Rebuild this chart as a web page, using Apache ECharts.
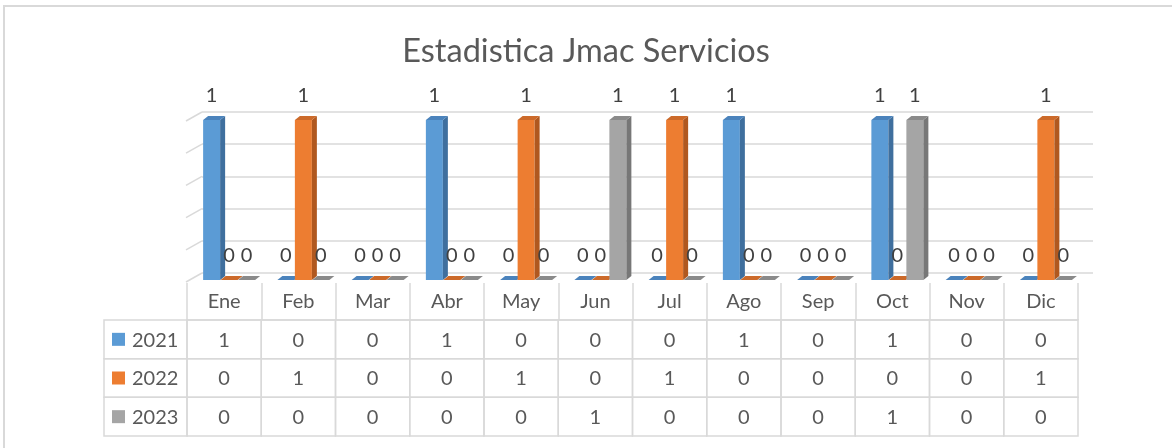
<!DOCTYPE html>
<html>
<head>
<meta charset="utf-8">
<title>Estadistica Jmac Servicios</title>
<script src="https://cdn.jsdelivr.net/npm/echarts@6/dist/echarts.min.js"></script>
<style>
  html, body { margin: 0; padding: 0; background: #ffffff; }
  #chart { width: 1172px; height: 448px; }
</style>
</head>
<body>
<div id="chart"></div>
<script>
// Monthly service counts per year
const months = ['Ene', 'Feb', 'Mar', 'Abr', 'May', 'Jun', 'Jul', 'Ago', 'Sep', 'Oct', 'Nov', 'Dic'];
const years = ['2021', '2022', '2023'];
const values2021 = [1, 0, 0, 1, 0, 0, 0, 1, 0, 1, 0, 0];
const values2022 = [0, 1, 0, 0, 1, 0, 1, 0, 0, 0, 0, 1];
const values2023 = [0, 0, 0, 0, 0, 1, 0, 0, 0, 1, 0, 0];
const valueTicks = [0, 0.2, 0.4, 0.6, 0.8, 1];

const seriesValues = [values2021, values2022, values2023];

// Column shading: front face, side face, top face
const frontColors = ['#5B9BD5', '#ED7D31', '#A5A5A5'];
const sideColors = ['#3F6F9E', '#B0581F', '#777777'];
const topColors = ['#4B83BC', '#CC6A2A', '#8A8A8A'];

const FONT = 'Lato, "Open Sans", sans-serif';
const GRID_LINE = '#D9D9D9';
const DEPTH_X = 5, DEPTH_Y = 4;

function columnGeometry(api, yearIdx) {
  const cat = api.value(0);
  const val = api.value(1);
  const top = api.coord([cat, val]);
  const base = api.coord([cat, 0]);
  const band = api.size([1, 0])[0];
  const w = band * 0.229;
  const cx = top[0] + (yearIdx - 1) * band * 0.2357;
  return { x1: cx - w / 2, x2: cx + w / 2, yTop: top[1], yBot: base[1], cx: cx };
}

function columnSeries(yearIdx) {
  return {
    type: 'custom',
    name: years[yearIdx],
    xAxisIndex: 1,
    yAxisIndex: 1,
    z: 3,
    data: seriesValues[yearIdx].map((v, i) => [i, v]),
    encode: { x: 0, y: 1 },
    renderItem: function (params, api) {
      const g = columnGeometry(api, yearIdx);
      const children = [];
      if (g.yBot - g.yTop > 0.5) {
        children.push({
          type: 'rect',
          shape: { x: g.x1, y: g.yTop, width: g.x2 - g.x1, height: g.yBot - g.yTop },
          style: { fill: frontColors[yearIdx] }
        });
      }
      children.push({
        type: 'polygon',
        shape: { points: [[g.x2, g.yTop], [g.x2 + DEPTH_X, g.yTop - DEPTH_Y], [g.x2 + DEPTH_X, g.yBot - DEPTH_Y], [g.x2, g.yBot]] },
        style: { fill: sideColors[yearIdx] }
      });
      children.push({
        type: 'polygon',
        shape: { points: [[g.x1, g.yTop], [g.x1 + DEPTH_X, g.yTop - DEPTH_Y], [g.x2 + DEPTH_X, g.yTop - DEPTH_Y], [g.x2, g.yTop]] },
        style: { fill: topColors[yearIdx] }
      });
      return { type: 'group', children: children };
    }
  };
}

function labelSeries(yearIdx) {
  return {
    type: 'custom',
    xAxisIndex: 1,
    yAxisIndex: 1,
    z: 6,
    silent: true,
    data: seriesValues[yearIdx].map((v, i) => [i, v]),
    encode: { x: 0, y: 1 },
    renderItem: function (params, api) {
      const g = columnGeometry(api, yearIdx);
      return {
        type: 'text',
        style: {
          text: String(api.value(1)),
          x: g.cx,
          y: g.yTop - 24.5,
          align: 'center',
          verticalAlign: 'middle',
          fill: '#404040',
          font: '20px ' + FONT
        }
      };
    }
  };
}

// Table body: one cell per month and year
const tableCells = [];
seriesValues.forEach((vals, yi) => vals.forEach((v, mi) => tableCells.push([mi, yi, v])));

const chart = echarts.init(document.getElementById('chart'), null, { renderer: 'canvas' });

chart.setOption({
  animation: false,
  backgroundColor: '#ffffff',
  title: {
    text: 'Estadistica Jmac Servicios',
    left: 'center',
    top: 30,
    textStyle: { fontFamily: FONT, fontSize: 32.5, fontWeight: 'normal', color: '#595959' }
  },
  graphic: [{
    type: 'rect',
    shape: { x: 4, y: 6, width: 1220, height: 500 },
    style: { fill: null, stroke: GRID_LINE, lineWidth: 2 },
    silent: true
  }],
  grid: [
    { left: 202, top: 112, width: 891, height: 161 },  // back wall
    { left: 192, top: 120, width: 891, height: 160 },  // columns
    { left: 187, top: 320, width: 891, height: 116 }   // data table
  ],
  xAxis: [
    { type: 'category', gridIndex: 0, data: months, show: false },
    { type: 'category', gridIndex: 1, data: months, show: false },
    {
      type: 'category', gridIndex: 2, data: months, position: 'top',
      axisLine: { show: true, lineStyle: { color: GRID_LINE, width: 1.5 } },
      axisTick: { show: true, interval: 0, length: 37, lineStyle: { color: GRID_LINE, width: 1.5 } },
      axisLabel: {
        interval: 0, margin: 18, verticalAlign: 'middle',
        color: '#595959', fontFamily: FONT, fontSize: 20
      },
      splitLine: { show: false }
    }
  ],
  yAxis: [
    {
      type: 'value', gridIndex: 0, min: 0, max: 1, interval: 0.2,
      axisLine: { show: false }, axisTick: { show: false }, axisLabel: { show: false },
      splitLine: { show: true, lineStyle: { color: GRID_LINE, width: 1.5 } }
    },
    { type: 'value', gridIndex: 1, min: 0, max: 1, interval: 0.2, show: false },
    {
      type: 'category', gridIndex: 2, data: years, inverse: true,
      axisLine: { show: false }, axisTick: { show: false }, axisLabel: { show: false },
      splitLine: { show: false }
    }
  ],
  series: [
    // side wall gridlines running toward the viewer
    {
      type: 'custom',
      xAxisIndex: 0,
      yAxisIndex: 0,
      silent: true,
      z: 1,
      data: valueTicks.map(v => [0, v]),
      encode: { x: 0, y: 1 },
      renderItem: function (params, api) {
        const p = api.coord([0, api.value(1)]);
        const x0 = params.coordSys.x;
        return {
          type: 'line',
          shape: { x1: x0, y1: p[1], x2: x0 - 16, y2: p[1] + 9 },
          style: { stroke: GRID_LINE, lineWidth: 1.5 }
        };
      }
    },
    columnSeries(0),
    columnSeries(1),
    columnSeries(2),
    labelSeries(0),
    labelSeries(1),
    labelSeries(2),
    // table cells
    {
      type: 'custom',
      xAxisIndex: 2,
      yAxisIndex: 2,
      silent: true,
      data: tableCells,
      encode: { x: 0, y: 1 },
      renderItem: function (params, api) {
        const c = api.coord([api.value(0), api.value(1)]);
        const s = api.size([1, 1]);
        return {
          type: 'group',
          children: [
            {
              type: 'rect',
              shape: { x: c[0] - s[0] / 2, y: c[1] - s[1] / 2, width: s[0], height: s[1] },
              style: { fill: null, stroke: GRID_LINE, lineWidth: 1.5 }
            },
            {
              type: 'text',
              style: {
                text: String(api.value(2)), x: c[0], y: c[1] + 1,
                align: 'center', verticalAlign: 'middle',
                fill: '#595959', font: '20px ' + FONT
              }
            }
          ]
        };
      }
    },
    // series names with colour keys
    {
      type: 'custom',
      xAxisIndex: 2,
      yAxisIndex: 2,
      silent: true,
      data: years.map((y, i) => [0, i]),
      encode: { x: 0, y: 1 },
      renderItem: function (params, api) {
        const yi = api.value(1);
        const c = api.coord([0, yi]);
        const s = api.size([1, 1]);
        const x0 = params.coordSys.x;
        return {
          type: 'group',
          children: [
            {
              type: 'rect',
              shape: { x: x0 - 83, y: c[1] - s[1] / 2, width: 83, height: s[1] },
              style: { fill: null, stroke: GRID_LINE, lineWidth: 1.5 }
            },
            {
              type: 'rect',
              shape: { x: x0 - 75, y: c[1] - 6.5, width: 13, height: 13 },
              style: { fill: frontColors[yi] }
            },
            {
              type: 'text',
              style: {
                text: years[yi], x: x0 - 55, y: c[1] + 1,
                align: 'left', verticalAlign: 'middle',
                fill: '#595959', font: '20px ' + FONT
              }
            }
          ]
        };
      }
    }
  ]
});
</script>
</body>
</html>
